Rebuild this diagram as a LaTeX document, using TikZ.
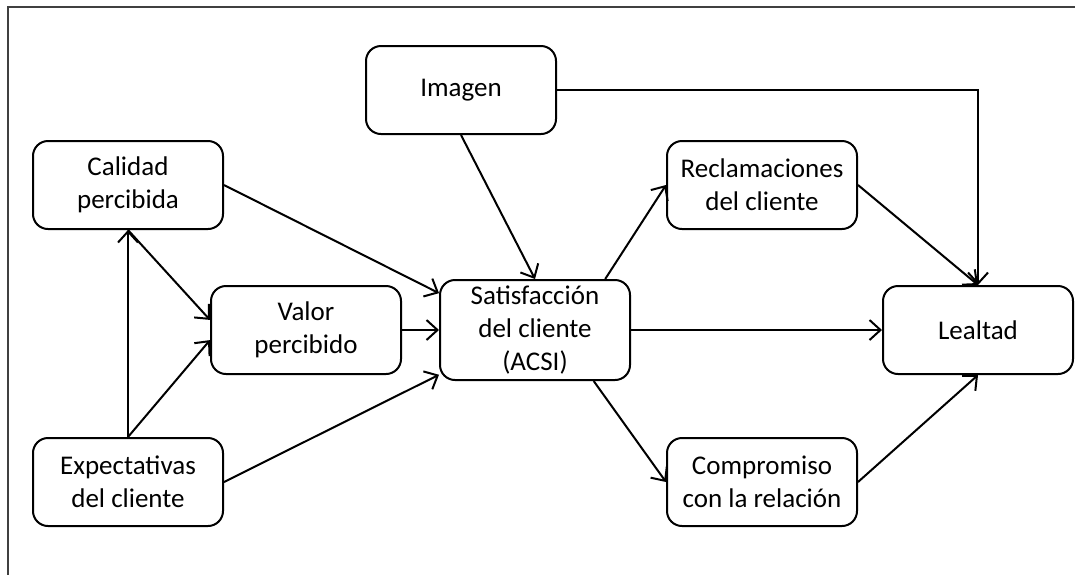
\documentclass[tikz,border=0pt]{standalone}
\usepackage{fontspec}
\setmainfont{Carlito}
\usepackage{tikz}
\usetikzlibrary{calc,shapes,arrows,arrows.meta,positioning}

\begin{document}
\begin{tikzpicture}[x=0.5pt,y=-0.5pt,
	box/.style={draw, rounded corners=7.5pt, line width=1pt,
		minimum width=95pt, minimum height=44pt, inner sep=0pt,
		align=center, font=\fontsize{13.5}{16.5}\selectfont},
	arr/.style={-{Straight Barb[length=5.5pt,width=10pt]}, line width=1pt}]
\useasboundingbox (0,0) rectangle (1075,575);
\draw[line width=1pt, black!75] (1075,7) -- (8,7) -- (8,575);

\node[box] (img) at (461,90) {Imagen};
\node[box] (cal) at (128,185) {Calidad\\percibida};
\node[box] (val) at (306,330) {Valor\\percibido};
\node[box, minimum height=50pt] (sat) at (535,330) {Satisfacción\\del cliente\\(ACSI)};
\node[box] (rec) at (762,185) {Reclamaciones\\del cliente};
\node[box] (leal) at (978,330) {Lealtad};
\node[box] (com) at (762,482) {Compromiso\\con la relación};
\node[box] (exp) at (128,482) {Expectativas\\del cliente};

\draw[arr] (img.east) -| (leal.north) ;
\draw[arr] (img.south) -- (sat.north) ;

\draw[arr] (cal.east) -- (sat.159) ;
\draw[arr] (val.east) -- (sat.west) ;
\draw[arr] (exp.east) -- (sat.205) ;

\draw[arr] (exp.north) -- (cal.south) ;
\draw[arr] (exp.north) -- (val.186) ;
\draw[arr] (cal.south) -- (val.174) ;

\draw[arr] (sat.36) -- (rec.west) ;
\draw[arr] (sat.319) -- (com.west) ;
\draw[arr] (sat.east) -- (leal.west) ;

\draw[arr] (rec.east) -- (leal.north) ;
\draw[arr] (com.east) -- (leal.south) ;

\end{tikzpicture}
\end{document}
